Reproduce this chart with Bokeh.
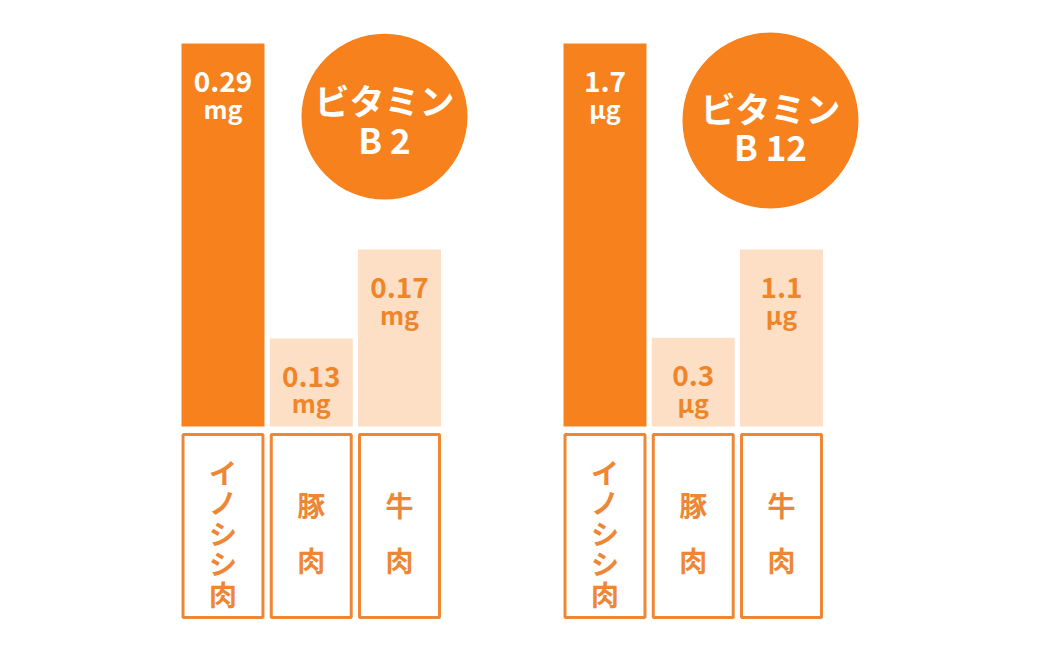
from bokeh.plotting import figure
from bokeh.models import Range1d
from bokeh.core.properties import value
from bokeh.embed import file_html
from bokeh.resources import INLINE

# ---- data ----
foods = ["イノシシ肉", "豚肉", "牛肉"]
b2_title = ["ビタミン", "B 2"]
b2_values = ["0.29", "0.13", "0.17"]
b2_unit = "mg"
b12_title = ["ビタミン", "B 12"]
b12_values = ["1.7", "0.3", "1.1"]
b12_unit = "μg"
# drawn bar heights (relative; infographic not to scale)
b2_heights = [1.0, 0.23, 0.462]
b12_heights = [1.0, 0.232, 0.462]

# ---- style ----
DARK = "#F7811C"
LIGHT = "#FDDFC6"
TXT_LIGHT = "#EF8529"
BOX = "#EE8735"
FONT = value("Noto Sans CJK JP")

PX_Y = 383.0      # pixels per y unit
PX_X = 88.25      # pixels per bar pitch
W, H = 1024, 630
X0 = 222.5        # pixel of first bar centre
Y0 = 426.0        # pixel (from top) of bar baseline

p = figure(width=W, height=H, output_backend="svg", toolbar_location=None,
           x_axis_location=None, y_axis_location=None, min_border=0,
           x_range=Range1d(-X0 / PX_X, (W - X0) / PX_X),
           y_range=Range1d(-(H - Y0) / PX_Y, Y0 / PX_Y))
p.grid.visible = False
p.outline_line_color = None
p.background_fill_color = "white"
p.border_fill_color = "white"

panels = [
    dict(off=0.0, title=b2_title, values=b2_values, unit=b2_unit, heights=b2_heights,
         cx=1.83, cy=0.809, r=83, toff=[-17, 22]),
    dict(off=382 / PX_X, title=b12_title, values=b12_values, unit=b12_unit, heights=b12_heights,
         cx=1.875, cy=0.799, r=88, toff=[-13, 25]),
]

BW = 0.94
for pn in panels:
    xs = [pn["off"] + i for i in range(len(foods))]
    fills = [DARK] + [LIGHT] * (len(foods) - 1)
    tcols = ["white"] + [TXT_LIGHT] * (len(foods) - 1)
    p.vbar(x=xs, top=pn["heights"], bottom=0, width=BW, fill_color=fills, line_color=None)

    # label boxes
    lw = 3
    half = (lw / 2) / PX_X
    p.quad(left=[x - BW / 2 + half for x in xs], right=[x + BW / 2 - half for x in xs],
           top=-8 / PX_Y, bottom=-191 / PX_Y,
           fill_color="white", line_color=BOX, line_width=lw)

    # value labels
    p.text(x=xs, y=pn["heights"], text=pn["values"], y_offset=38,
           text_align="center", text_baseline="middle", text_color=tcols,
           text_font=FONT, text_font_size="28px", text_font_style="bold")
    p.text(x=xs, y=pn["heights"], text=[pn["unit"]] * len(xs), y_offset=64,
           text_align="center", text_baseline="middle", text_color=tcols,
           text_font=FONT, text_font_size="25px", text_font_style="bold")

    # vertical food labels
    cx_l, cy_l, ch_l, off_l = [], [], [], []
    for x, name in zip(xs, foods):
        n = len(name)
        step = 30.5 if n > 2 else 55
        for j, ch in enumerate(name):
            cx_l.append(x)
            cy_l.append(-106 / PX_Y)
            ch_l.append(ch)
            off_l.append((j - (n - 1) / 2) * step)
    p.text(x=cx_l, y=cy_l, text=ch_l, y_offset=off_l,
           text_align="center", text_baseline="middle", text_color=BOX,
           text_font=FONT, text_font_size="28px", text_font_style="bold")

    # title circle
    p.scatter(x=[pn["off"] + pn["cx"]], y=[pn["cy"]], size=2 * pn["r"], marker="circle",
              fill_color=DARK, line_color=None)
    p.text(x=[pn["off"] + pn["cx"]] * 2, y=[pn["cy"]] * 2, text=pn["title"],
           y_offset=pn["toff"], text_align="center", text_baseline="middle",
           text_color="white", text_font=FONT, text_font_size="35px", text_font_style="bold")

open("out.html", "w").write(file_html(p, INLINE))
